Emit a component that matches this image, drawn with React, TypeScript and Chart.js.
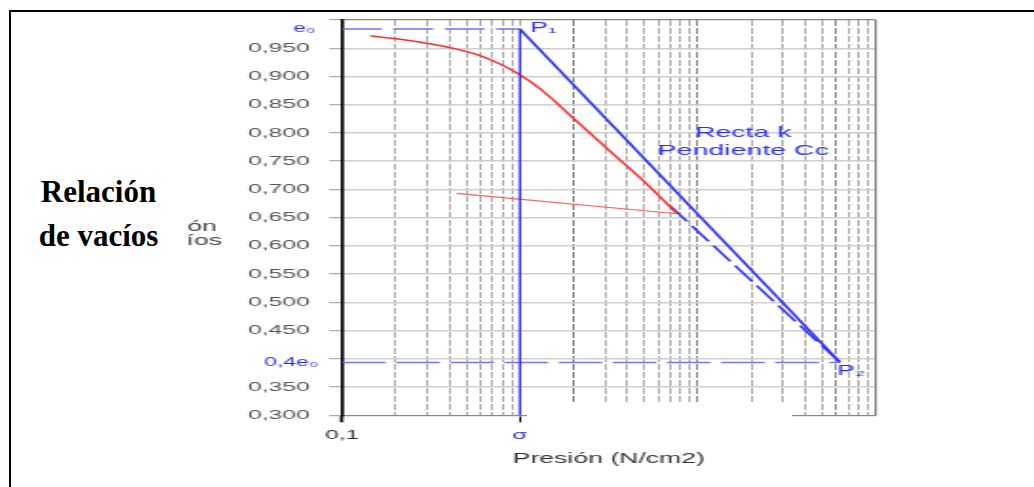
import React, { useEffect, useRef } from 'react';
import { Chart, registerables } from 'chart.js';

Chart.register(...registerables);

// ---------------- data ----------------
const E0 = 0.984; // relación de vacíos inicial
const E_LOW = 0.3936; // 0,4 e0
const SIGMA = 1; // presión de preconsolidación (σ)
const P2_PRESSURE = 63;

// curva de compresión (roja)
const curvePressure = [0.144, 0.212, 0.312, 0.432, 0.597, 0.773, 0.963, 1.3, 1.95, 3.17, 5.15, 7.64];
const curveVoid = [0.972, 0.966, 0.958, 0.949, 0.937, 0.922, 0.906, 0.878, 0.829, 0.769, 0.71, 0.657];

// rama de descarga (roja fina)
const unloadPressure = [0.441, 7.64];
const unloadVoid = [0.693, 0.657];

// recta k (P1 -> P2)
const rectaPressure = [SIGMA, P2_PRESSURE];
const rectaVoid = [E0, E_LOW];

// recta discontinua desde la curva hasta P2
const tangentPressure = [6.98, P2_PRESSURE];
const tangentVoid = [0.671, E_LOW];

// líneas de referencia
const e0LinePressure = [0.1, SIGMA];
const e0LineVoid = [E0, E0];
const lowLinePressure = [0.1, P2_PRESSURE];
const lowLineVoid = [E_LOW, E_LOW];
const sigmaLinePressure = [SIGMA, SIGMA];
const sigmaLineVoid = [E0, 0.3];

// ejes
const xGridValues = [
  0.1, 0.2, 0.3, 0.4, 0.5, 0.6, 0.7, 0.8, 0.9,
  1, 2, 3, 4, 5, 6, 7, 8, 9,
  10, 20, 30, 40, 50, 60, 70, 80, 90,
  100,
];
const xTickLabels: [number, string][] = [
  [0.1, '0,1'],
  [SIGMA, 'σ'],
];
const darkXLines = [2, 10, 60];
const yTickValues = [0.3, 0.35, 0.4, 0.45, 0.5, 0.55, 0.6, 0.65, 0.7, 0.75, 0.8, 0.85, 0.9, 0.95, 1.0];
const yHiddenLabels = [0.4, 1.0];
const yExtraLabels: [number, string][] = [
  [E0, 'e₀'],
  [E_LOW, '0,4e₀'],
];

const X_TITLE = 'Presión (N/cm2)';
const Y_TITLE_LINES = ['Relación', 'de vacíos'];
const RECTA_LINES = ['Recta k', 'Pendiente Cc'];
const RECTA_LABEL_X = 18;
const RECTA_LABEL_Y = [0.8005, 0.7687];
const P1_LABEL = 'P₁';
const P2_LABEL = 'P₂';

// ---------------- style ----------------
const FONT = '"Liberation Sans", Arial, Helvetica, sans-serif';
const BLUE = 'rgb(45,45,255)';
const LIGHT_BLUE = 'rgb(115,115,255)';
const RED = 'rgb(255,45,45)';
const LIGHT_RED = 'rgb(255,95,95)';
const SX = 1.9;
const CW = 520;
const CH = 470;

const near = (a: number | undefined, b: number) => a != null && Math.abs(a - b) < 1e-9;
const pts = (xs: number[], ys: number[]) => xs.map((x, i) => ({ x, y: ys[i] }));

const annotationPlugin = {
  id: 'annotations',
  beforeDatasetsDraw(chart: any) {
    const { ctx, chartArea } = chart;
    ctx.save();
    ctx.strokeStyle = '#777';
    ctx.lineWidth = 1.1;
    ctx.beginPath();
    ctx.moveTo(chartArea.right, chartArea.top);
    ctx.lineTo(chartArea.right, chartArea.bottom);
    ctx.stroke();
    ctx.restore();
  },
  afterDatasetsDraw(chart: any) {
    const { ctx, scales, chartArea } = chart;
    const x = scales.x;
    const y = scales.y;
    ctx.save();
    ctx.textBaseline = 'middle';

    // título original del eje (parcialmente tapado)
    ctx.fillStyle = '#444';
    ctx.textAlign = 'center';
    ctx.font = `14px ${FONT}`;
    ctx.fillText(Y_TITLE_LINES[0], 80.5, 219.4);
    ctx.fillText(Y_TITLE_LINES[1], 80.5, 233.5);

    ctx.fillStyle = BLUE;
    // etiquetas e0 y 0,4e0 en el eje
    ctx.textAlign = 'right';
    ctx.font = `12px ${FONT}`;
    ctx.fillText(yExtraLabels[0][1], chartArea.left - 14, y.getPixelForValue(yExtraLabels[0][0]));
    ctx.fillText(yExtraLabels[1][1], chartArea.left - 12.5, y.getPixelForValue(yExtraLabels[1][0]));

    // P1
    ctx.textAlign = 'left';
    ctx.font = `14px ${FONT}`;
    ctx.fillText(P1_LABEL, x.getPixelForValue(SIGMA) + 5.3, y.getPixelForValue(E0) - 1);
    // P2
    ctx.fillText(P2_LABEL, x.getPixelForValue(P2_PRESSURE) - 1.5, y.getPixelForValue(E_LOW) + 8.5);
    // Recta k
    ctx.textAlign = 'center';
    ctx.font = `15px ${FONT}`;
    const rx = x.getPixelForValue(RECTA_LABEL_X);
    ctx.fillText(RECTA_LINES[0], rx, y.getPixelForValue(RECTA_LABEL_Y[0]));
    ctx.fillText(RECTA_LINES[1], rx, y.getPixelForValue(RECTA_LABEL_Y[1]));
    ctx.restore();
  },
};

function buildConfig(): any {
  const line = (data: { x: number; y: number }[], color: string, width: number, dash: number[] = [], extra: any = {}) => ({
    data,
    borderColor: color,
    backgroundColor: color,
    borderWidth: width,
    borderDash: dash,
    pointRadius: 0,
    fill: false,
    tension: 0,
    ...extra,
  });

  return {
    type: 'line',
    data: {
      datasets: [
        line(pts(sigmaLinePressure, sigmaLineVoid), BLUE, 1.3),
        line(pts(e0LinePressure, e0LineVoid), LIGHT_BLUE, 1.4, [21, 6]),
        line(pts(lowLinePressure, lowLineVoid), LIGHT_BLUE, 1.4, [23, 5.5]),
        line(pts(unloadPressure, unloadVoid), LIGHT_RED, 1.1),
        line(pts(curvePressure, curveVoid), RED, 1.5, [], { cubicInterpolationMode: 'monotone' }),
        line(pts(tangentPressure, tangentVoid), BLUE, 1.5, [18, 5]),
        line(pts(rectaPressure, rectaVoid), BLUE, 1.6),
      ],
    },
    options: {
      animation: false,
      responsive: false,
      devicePixelRatio: 1,
      events: [],
      layout: { padding: { left: 113.7, right: 65.4, top: 12, bottom: 10.6 } },
      plugins: { legend: { display: false }, tooltip: { enabled: false }, title: { display: false } },
      scales: {
        x: {
          type: 'logarithmic',
          min: 0.1,
          max: 100,
          afterBuildTicks: (s: any) => {
            s.ticks = xGridValues.map((v) => ({ value: v }));
          },
          afterFit: (s: any) => {
            s.height = 52.1;
            s.paddingLeft = 0;
            s.paddingRight = 0;
          },
          grid: {
            display: true,
            drawOnChartArea: true,
            drawTicks: true,
            lineWidth: 1,
            tickLength: 7,
            color: (c: any) => {
              const v = c.tick?.value;
              if (near(v, 0.1) || near(v, 100)) return 'rgba(0,0,0,0)';
              if (darkXLines.some((d) => near(v, d))) return '#858585';
              return '#a8a8a8';
            },
            tickColor: (c: any) => {
              const v = c.tick?.value;
              if (near(v, 0.1) || near(v, SIGMA)) return '#000';
              return 'rgba(0,0,0,0)';
            },
            tickWidth: (c: any) => (near(c.tick?.value, 0.1) ? 1.7 : 1),
          },
          border: { display: true, color: '#888', width: 1, dash: [6, 2] },
          ticks: {
            autoSkip: false,
            maxRotation: 0,
            minRotation: 0,
            padding: 5.4,
            font: { family: FONT, size: 13 },
            color: (c: any) => (near(c.tick?.value, SIGMA) ? BLUE : '#333'),
            callback: (v: any) => {
              const f = xTickLabels.find(([t]) => near(Number(v), t));
              return f ? f[1] : '';
            },
          },
          title: {
            display: true,
            text: X_TITLE,
            color: '#333',
            font: { family: FONT, size: 14 },
            padding: 0,
          },
        },
        y: {
          type: 'linear',
          min: 0.3,
          max: 1.0,
          afterBuildTicks: (s: any) => {
            s.ticks = yTickValues.map((v) => ({ value: v }));
          },
          afterFit: (s: any) => {
            s.width = 60;
            s.paddingTop = 0;
            s.paddingBottom = 0;
          },
          grid: {
            display: true,
            drawTicks: true,
            tickLength: 6.8,
            lineWidth: (c: any) => (near(c.tick?.value, 1.0) ? 1.2 : 1.4),
            color: (c: any) => (near(c.tick?.value, 1.0) ? '#888' : '#cfcfcf'),
            tickColor: '#999',
            tickWidth: 1,
          },
          border: { display: true, color: '#000', width: 1.7 },
          ticks: {
            autoSkip: false,
            padding: 10.2,
            font: { family: FONT, size: 13 },
            color: '#555',
            callback: (v: any) => {
              const n = Number(v);
              if (yHiddenLabels.some((h) => near(n, h))) return '';
              return n.toFixed(3).replace('.', ',');
            },
          },
        },
      },
    },
    plugins: [annotationPlugin],
  };
}

export default function App() {
  const ref = useRef<HTMLCanvasElement>(null);
  useEffect(() => {
    if (!ref.current) return;
    const chart = new Chart(ref.current, buildConfig());
    return () => chart.destroy();
  }, []);

  return (
    <div>
      <div
        style={{
          position: 'absolute',
          left: 9,
          top: 10,
          width: 1025,
          height: 477,
          borderTop: '2px solid #000',
          borderLeft: '2px solid #000',
          boxSizing: 'border-box',
        }}
      />
      <canvas
        ref={ref}
        width={CW}
        height={CH}
        style={{
          position: 'absolute',
          left: 12,
          top: 8,
          width: CW,
          height: CH,
          transform: `scaleX(${SX})`,
          transformOrigin: '0 0',
        }}
      />
      <div style={{ position: 'absolute', left: 527, top: 404, width: 265, height: 46, background: '#fff' }} />
      <div style={{ position: 'absolute', left: 20, top: 166, width: 167, height: 96, background: '#fff' }}>
        <div
          style={{
            position: 'absolute',
            left: 0,
            top: 3.8,
            width: 157,
            textAlign: 'center',
            font: 'bold 31px/44px "Liberation Serif", "Times New Roman", serif',
            color: '#000',
          }}
        >
          Relación
          <br />
          de vacíos
        </div>
      </div>
    </div>
  );
}
